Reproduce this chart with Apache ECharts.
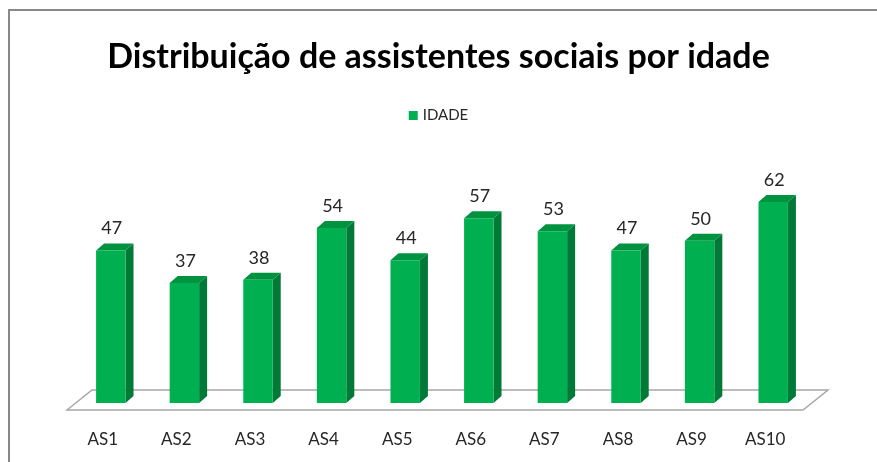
<!DOCTYPE html>
<html>
<head>
<meta charset="utf-8">
<script src="https://cdn.jsdelivr.net/npm/echarts@6/dist/echarts.min.js"></script>
<style>
  html, body { margin: 0; padding: 0; background: #fff; }
  #main { width: 877px; height: 462px; }
</style>
</head>
<body>
<div id="main"></div>
<script>
var categories = ["AS1", "AS2", "AS3", "AS4", "AS5", "AS6", "AS7", "AS8", "AS9", "AS10"];
var idade = [47, 37, 38, 54, 44, 57, 53, 47, 50, 62];
var seriesName = "IDADE";

var depthX = 8, depthY = 7;   // deslocamento da face lateral

function renderBar(params, api) {
    var i = api.value(0);
    var v = api.value(1);
    var top = api.coord([i, v]);
    var base = api.coord([i, 0]);
    var w = api.size([1, 0])[0] * 0.4;
    var x0 = top[0] - w / 2, x1 = top[0] + w / 2;
    var y0 = top[1], y1 = base[1];
    return {
        type: 'group',
        children: [
            {   // lateral
                type: 'polygon',
                shape: {points: [[x1, y0], [x1 + depthX, y0 - depthY], [x1 + depthX, y1 - depthY], [x1, y1]]},
                style: {fill: '#007a36'}
            },
            {   // topo
                type: 'polygon',
                shape: {points: [[x0, y0], [x0 + depthX, y0 - depthY], [x1 + depthX, y0 - depthY], [x1, y0]]},
                style: {fill: '#00933f'}
            },
            {   // frente
                type: 'rect',
                shape: {x: x0, y: y0, width: w, height: y1 - y0},
                style: {fill: '#00b050'}
            },
            {
                type: 'text',
                x: top[0] + 1,
                y: y0 - 22,
                style: {
                    text: String(v), align: 'center', verticalAlign: 'middle',
                    font: '18px Lato', fill: '#262626'
                }
            }
        ]
    };
}

var myChart = echarts.init(document.getElementById('main'));

var option = {
    animation: false,
    title: {
        text: 'Distribuição de assistentes sociais por idade',
        left: 'center',
        top: 35,
        textStyle: {fontFamily: 'Lato', fontWeight: 'bold', fontSize: 34, color: '#000'}
    },
    legend: {
        data: [seriesName],
        top: 103,
        left: 'center',
        itemWidth: 9,
        itemHeight: 9,
        itemGap: 6,
        icon: 'rect',
        textStyle: {fontFamily: 'Lato', fontSize: 15, color: '#262626'}
    },
    grid: {left: 74, right: 67, top: 176, bottom: 59},
    xAxis: {
        type: 'category',
        data: categories,
        axisLine: {show: false},
        axisTick: {show: false},
        axisLabel: {
            margin: 28, fontFamily: 'Lato', fontSize: 17, color: '#262626',
            padding: [0, 16, 0, 0]
        }
    },
    yAxis: {
        type: 'value', min: 0, max: 70, show: false
    },
    graphic: [
        {   // moldura
            type: 'rect', z: -1,
            shape: {x: 9, y: 10, width: 900, height: 500},
            style: {fill: 'none', stroke: '#898989', lineWidth: 2}
        },
        {   // piso
            type: 'polygon', z: 0,
            shape: {points: [[67, 410], [92, 390], [828, 390], [803, 410]]},
            style: {fill: '#fff', stroke: '#a6a6a6', lineWidth: 1.5}
        }
    ],
    series: [{
        name: seriesName,
        type: 'custom',
        itemStyle: {color: '#00b050'},
        renderItem: renderBar,
        encode: {x: 0, y: 1},
        data: idade.map(function (v, i) { return [i, v]; }),
        z: 5
    }]
};

myChart.setOption(option);
</script>
</body>
</html>
